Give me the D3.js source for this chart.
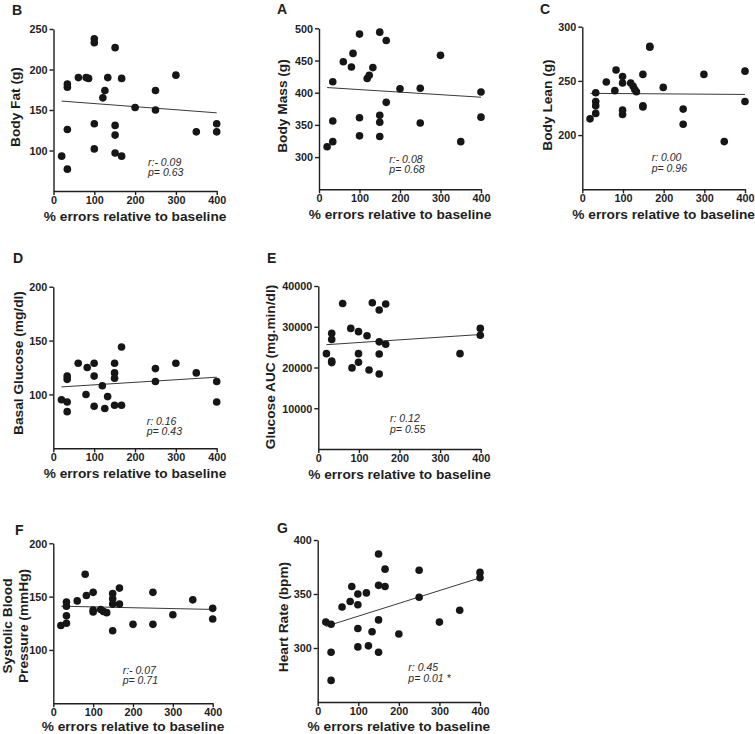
<!DOCTYPE html>
<html>
<head>
<meta charset="utf-8">
<script src="https://cdn.jsdelivr.net/npm/d3@7"></script>
<style>
  html, body { margin: 0; padding: 0; background: #fff; }
  svg { display: block; font-family: "Liberation Sans", Arial, sans-serif; }
  .tick-label { font-size: 10.8px; font-weight: bold; fill: #1e1e1e; }
  .axis-title { font-size: 13.7px; font-weight: bold; fill: #1e1e1e; }
  .panel-letter { font-size: 14px; font-weight: bold; fill: #1e1e1e; }
  .stat { font-size: 10.5px; font-style: italic; fill: #2a2a2a; }
</style>
</head>
<body>
<svg id="chart" width="755" height="734"></svg>
<script>
(function(){

const xTicks = [0, 100, 200, 300, 400];
const xTitle = '% errors relative to baseline';

// ---- B: body fat ----
const xB = [20,34,34,34,34,61,80,86,100,100,100,100,121,126,133,151,151,151,151,167,167,200,250,250,300,350,400,400];
const fatB = [93,77,126,178,182,190,190,189,238,233,133,102,165,174,190,227,131,119,97,189,93,153,174,150,193,123,133,123];
const fitB = [[20,161],[400,146.5]];

// ---- A: body mass ----
const xA = [20,34,34,34,60,80,84,100,100,100,119,124,133,150,150,150,150,166,166,200,250,250,300,350,400,400];
const massA = [316,324,356,417,448,440,461,491,361,333,422,427,439,494,365,354,332,481,385,406,407,353,458,324,401,362];
const fitA = [[20,408],[400,393]];

// ---- C: body lean ----
const xC = [19,33,33,33,33,59,80,83,99,99,99,99,119,125,129,133,149,149,149,166,166,199,248,248,299,349,400,400];
const leanC = [215,220,227,231,239,249,241,260,254,248,223,219,248,245,242,240,256,227,226,282,281,244,224,210,256,194,259,231];
const fitC = [[20,238.5],[400,237.5]];

// ---- D: basal glucose ----
const xD = [20,34,34,34,34,61,80,83,100,100,100,120,126,133,150,150,150,150,167,167,250,250,300,350,400,400];
const glucD = [95,117,114,93,84,129,100,125,129,117,89,108,87,98,129,120,115,90,144,90,124,112,129,120,112,93];
const fitD = [[20,107],[400,116]];

// ---- E: glucose AUC ----
const xE = [20,33,33,33,33,60,80,83,99,99,99,120,125,133,150,150,150,150,166,166,349,399,399];
const aucE = [23400,28400,26900,21600,21200,35700,29600,19900,28800,23400,21300,27800,19400,35900,34100,26300,23300,18400,35600,25700,23400,29600,27900];
const fitE = [[20,25600],[400,28100]];

// ---- F: systolic blood pressure ----
const xF = [19,33,33,33,33,60,80,83,100,100,100,119,126,134,149,149,149,149,166,166,200,250,250,300,350,400,400];
const sbpF = [123,125,132,141,145,146,171,151,154,137.5,135.6,138,136,135,153,148,143,118,158,143,124,154,124,133,147,139,129];
const fitF = [[20,141],[400,138]];

// ---- G: heart rate ----
const xG = [20,33,33,33,60,80,84,99,99,99,99,120,125,134,150,150,150,150,166,166,200,250,250,300,350,400,400];
const hrG = [324,322,296,270,338,343,357,350,340,318,301,351,302,315,387,358,326,296,373,357,313,372,347,324,335,370,365];
const fitG = [[20,320],[400,365]];

// panel layout (pixel boxes + text placement)
const panels = [
  {letter:'B', lx:12, ly:15, x0:53.5, x1:216.7, yTop:29, yBot:191, dom:[50,250], ticks:[100,150,200,250],
   xs:xB, ys:fatB, fit:fitB, title:['Body Fat (g)'], tx:15, ty:107, r:'r:- 0.09', p:'p= 0.63', ax:94.5, ay:-25.3},
  {letter:'A', lx:277, ly:13.5, x0:319, x1:481, yTop:28.3, yBot:189.3, dom:[250,500], ticks:[300,350,400,450,500],
   xs:xA, ys:massA, fit:fitA, title:['Body Mass (g)'], tx:282, ty:106, r:'r:- 0.08', p:'p= 0.68', ax:70.3, ay:-26.6},
  {letter:'C', lx:540, ly:13.5, x0:582.3, x1:745, yTop:26.7, yBot:189.3, dom:[150,300], ticks:[200,250,300],
   xs:xC, ys:leanC, fit:fitC, title:['Body Lean (g)'], tx:547, ty:105, r:'r: 0.00', p:'p= 0.96', ax:69.4, ay:-28},
  {letter:'D', lx:13, ly:263, x0:53.3, x1:216.7, yTop:286.7, yBot:448.3, dom:[50,200], ticks:[100,150,200],
   xs:xD, ys:glucD, fit:fitD, title:['Basal Glucose (mg/dl)'], tx:18, ty:363, r:'r: 0.16', p:'p= 0.43', ax:93.4, ay:-23.6},
  {letter:'E', lx:267, ly:263, x0:318.3, x1:480.7, yTop:286, yBot:449, dom:[0,40000], ticks:[10000,20000,30000,40000],
   xs:xE, ys:aucE, fit:fitE, title:['Glucose AUC (mg.min/dl)'], tx:270, ty:367, r:'r: 0.12', p:'p= 0.55', ax:71.7, ay:-27},
  {letter:'F', lx:15, ly:535, x0:53.3, x1:212.7, yTop:543.3, yBot:703.3, dom:[50,200], ticks:[100,150,200],
   xs:xF, ys:sbpF, fit:fitF, title:['Systolic Blood','Pressure (mmHg)'], tx:15, ty:626, r:'r:- 0.07', p:'p= 0.71', ax:69.4, ay:-29.6},
  {letter:'G', lx:277, ly:533, x0:317.7, x1:480, yTop:540, yBot:702, dom:[250,400], ticks:[300,350,400],
   xs:xG, ys:hrG, fit:fitG, title:['Heart Rate (bpm)'], tx:283, ty:617, r:'r: 0.45', p:'p= 0.01 *', ax:90.6, ay:-30.7}
];

const svg = d3.select('#chart');
const ink = '#1e1e1e';

panels.forEach(pn => {
  const x = d3.scaleLinear().domain([0,400]).range([pn.x0, pn.x1]);
  const y = d3.scaleLinear().domain(pn.dom).range([pn.yBot, pn.yTop]);
  const g = svg.append('g');

  // axes
  const xAxis = g.append('g').attr('transform', `translate(0,${pn.yBot})`)
    .call(d3.axisBottom(x).tickValues(xTicks).tickFormat(d3.format('d')).tickSize(4).tickPadding(1).tickSizeOuter(0));
  const yAxis = g.append('g').attr('transform', `translate(${pn.x0},0)`)
    .call(d3.axisLeft(y).tickValues(pn.ticks).tickFormat(d3.format('d')).tickSize(4).tickPadding(2).tickSizeOuter(0));
  [xAxis, yAxis].forEach(a => {
    a.attr('font-family', null).attr('font-size', null);
    a.select('.domain').attr('stroke', ink).attr('stroke-width', 1.4);
    a.selectAll('.tick line').attr('stroke', ink).attr('stroke-width', 1.4);
    a.selectAll('.tick text').attr('class', 'tick-label').attr('fill', null);
  });
  yAxis.selectAll('.tick text').attr('dy', '0.36em');
  xAxis.selectAll('.tick text').attr('dy', '0.71em');

  // fit line
  g.append('line')
    .attr('x1', x(pn.fit[0][0])).attr('y1', y(pn.fit[0][1]))
    .attr('x2', x(pn.fit[1][0])).attr('y2', y(pn.fit[1][1]))
    .attr('stroke', '#222').attr('stroke-width', 0.9);

  // points
  g.selectAll('circle')
    .data(pn.xs.map((v,i) => [v, pn.ys[i]]))
    .join('circle')
    .attr('cx', d => x(d[0]))
    .attr('cy', d => y(d[1]))
    .attr('r', 3.8)
    .attr('fill', '#161616');

  // panel letter
  g.append('text').attr('class','panel-letter').attr('x', pn.lx).attr('y', pn.ly).text(pn.letter);

  // x title
  g.append('text').attr('class','axis-title')
    .attr('x', (pn.x0 + pn.x1)/2).attr('y', Math.min(pn.yBot + 29.5, 731))
    .attr('text-anchor','middle').text(xTitle);

  // y title (one or two lines)
  const n = pn.title.length;
  pn.title.forEach((t, i) => {
    const cx = n === 1 ? pn.tx : [7.5, 23.5][i];
    g.append('text').attr('class','axis-title')
      .attr('transform', `translate(${cx},${pn.ty}) rotate(-90)`)
      .attr('text-anchor','middle').attr('dy','0.36em').text(t);
  });

  // stats
  g.append('text').attr('class','stat').attr('x', pn.x0 + pn.ax).attr('y', pn.yBot + pn.ay).text(pn.r);
  g.append('text').attr('class','stat').attr('x', pn.x0 + pn.ax).attr('y', pn.yBot + pn.ay + 10.6).text(pn.p);
});

})();
</script>
</body>
</html>
